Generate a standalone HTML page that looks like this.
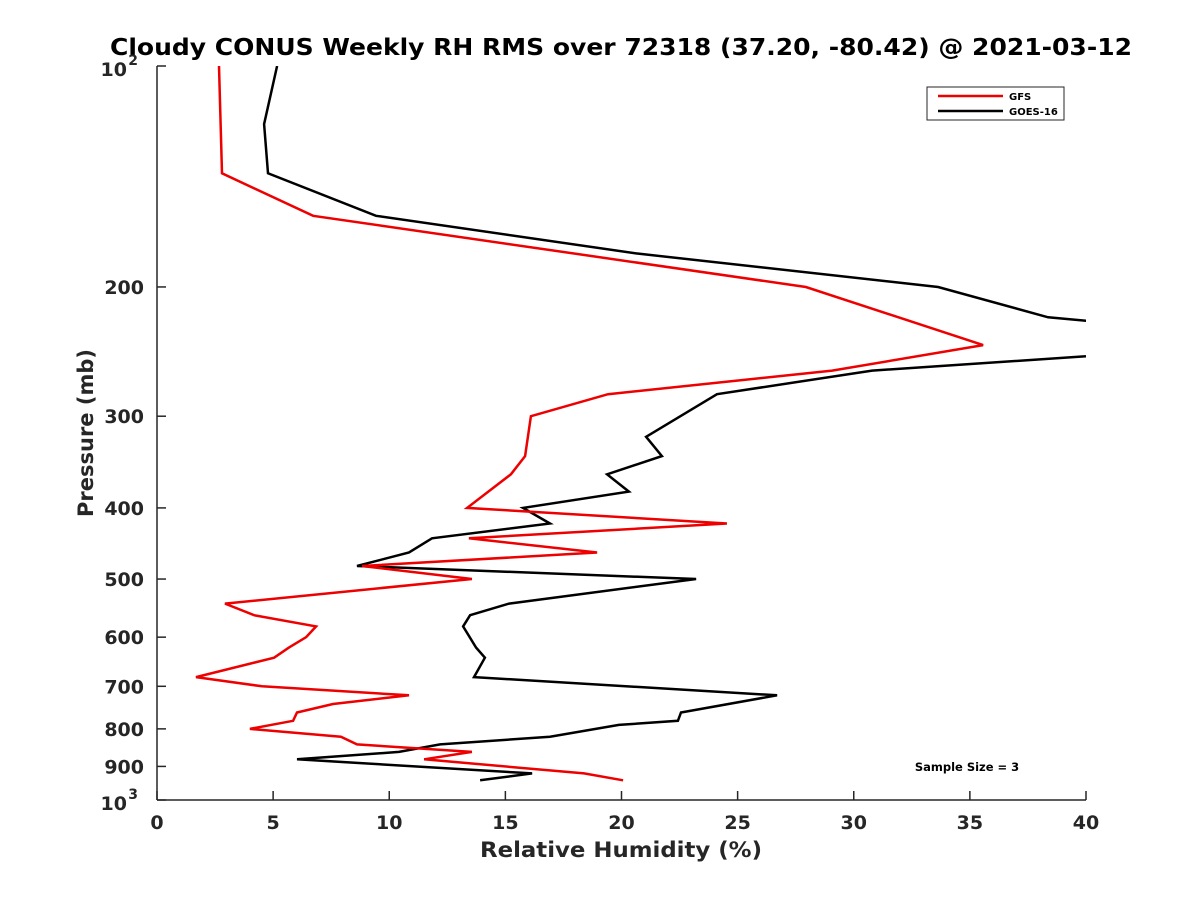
<!DOCTYPE html>
<html><head><meta charset="utf-8"><style>
html,body{margin:0;padding:0;background:#fff;}
svg{display:block;font-family:"DejaVu Sans","Liberation Sans",sans-serif;}
</style></head><body>
<svg id="chart" width="1200" height="900" viewBox="0 0 1200 900">
<defs><clipPath id="plotclip"><rect x="157" y="66" width="929" height="734"/></clipPath></defs>
<rect width="1200" height="900" fill="#fff"/>
<text x="621" y="55" text-anchor="middle" font-size="23" font-weight="bold" fill="#000" textLength="1022" lengthAdjust="spacingAndGlyphs">Cloudy CONUS Weekly RH RMS over 72318 (37.20, -80.42) @ 2021-03-12</text>
<g id="axes"></g>
<g id="series" clip-path="url(#plotclip)"></g>
<text x="621" y="857" text-anchor="middle" font-size="21" font-weight="bold" fill="#262626" textLength="282" lengthAdjust="spacingAndGlyphs">Relative Humidity (%)</text>
<text transform="translate(93,433) rotate(-90)" text-anchor="middle" font-size="21" font-weight="bold" fill="#262626">Pressure (mb)</text>
<g>
<rect x="927" y="87" width="137" height="33" fill="#fff" stroke="#262626" stroke-width="1"/>
<line x1="938" y1="96" x2="1003" y2="96" stroke="#e00" stroke-width="2.5"/>
<text x="1009" y="100" font-size="10" font-weight="bold" fill="#000">GFS</text>
<line x1="938" y1="111" x2="1003" y2="111" stroke="#000" stroke-width="2.5"/>
<text x="1009" y="115" font-size="10" font-weight="bold" fill="#000">GOES-16</text>
</g>
<text x="967" y="771" text-anchor="middle" font-size="11.5" font-weight="bold" fill="#000">Sample Size = 3</text>
</svg>
<script>
const gfsPressure = [100,140,160,200,240,260,280,300,340,360,400,420,440,460,480,500,540,560,580,600,620,640,680,700,720,740,760,780,800,820,840,860,880,920,940];
const gfsRH = [2.67,2.80,6.72,27.94,35.57,29.07,19.42,16.10,15.85,15.24,13.35,24.54,13.43,18.95,8.83,13.56,2.93,4.18,6.85,6.42,5.68,5.04,1.68,4.52,10.85,7.58,6.03,5.86,4.00,7.92,8.61,13.56,11.50,18.39,20.07];
const goesPressure = [100,120,140,160,180,200,220,230,245,260,280,320,340,360,380,400,420,440,460,480,500,540,560,580,620,640,680,720,760,780,790,820,840,860,880,920,940];
const goesRH = [5.17,4.61,4.78,9.43,20.63,33.63,38.37,45,43,30.79,24.11,21.06,21.74,19.38,20.32,15.76,16.92,11.84,10.85,8.61,23.21,15.16,13.48,13.18,13.74,14.12,13.65,26.70,22.56,22.43,19.89,16.92,12.19,10.42,6.03,16.15,13.91];
const xTicks = [0,5,10,15,20,25,30,35,40];
const yTicks = [100,200,300,400,500,600,700,800,900,1000];
const yTickLabels = ["10^2","200","300","400","500","600","700","800","900","10^3"];

const X0=157,X1=1086,Y0=66,Y1=800;
function xs(v){return X0+(v-0)/(40-0)*(X1-X0);}
function ys(p){return Y0+(Math.log10(p)-2)*(Y1-Y0);}
const NS="http://www.w3.org/2000/svg";
const axes=document.getElementById('axes');
const series=document.getElementById('series');
function mk(tag,attrs,parent){const e=document.createElementNS(NS,tag);for(const k in attrs)e.setAttribute(k,attrs[k]);parent.appendChild(e);return e;}

const yAxis=mk('line',{x1:X0,y1:Y0,x2:X0,y2:Y1,stroke:'#262626','stroke-width':1.5},axes);


const xAxis=mk('line',{x1:X0,y1:Y1,x2:X1,y2:Y1,stroke:'#262626','stroke-width':1.5},axes);



xTicks.forEach(v=>{
  const x=xs(v);
  const t=mk('line',{x1:x,y1:Y1,x2:x,y2:Y1-9,stroke:'#262626','stroke-width':1.5},axes);
  
  
  const l=mk('text',{x:x,y:Y1+29,'text-anchor':'middle','font-size':19,'font-weight':'bold',fill:'#262626'},axes);
  l.textContent=String(v);
  
  
});
yTicks.forEach((p,i)=>{
  const y=ys(p);
  const t=mk('line',{x1:X0,y1:y,x2:X0+9,y2:y,stroke:'#262626','stroke-width':1.5},axes);
  
  
  const lab=yTickLabels[i];
  if(lab.indexOf('^')>=0){
    const parts=lab.split('^');
    const l=mk('text',{x:X0-30,y:y+10,'text-anchor':'end','font-size':19,'font-weight':'bold',fill:'#262626'},axes);
    l.textContent=parts[0];
    
    
    const s=mk('text',{x:X0-19,y:y-1,'text-anchor':'end','font-size':14,'font-weight':'bold',fill:'#262626'},axes);
    s.textContent=parts[1];
    
    
  } else {
    const l=mk('text',{x:X0-13,y:y+7,'text-anchor':'end','font-size':19,'font-weight':'bold',fill:'#262626'},axes);
    l.textContent=lab;
    
    
  }
});

function drawLine(P,V,color,name){
  const pts=P.map((p,i)=>xs(V[i]).toFixed(1)+','+ys(p).toFixed(1)).join(' ');
  const pl=mk('polyline',{points:pts,fill:'none',stroke:color,'stroke-width':2.5,'stroke-linejoin':'miter'},series);
  
  
}
drawLine(goesPressure,goesRH,'#000','goes16-line');
drawLine(gfsPressure,gfsRH,'#e00','gfs-line');
</script>
</body></html>
